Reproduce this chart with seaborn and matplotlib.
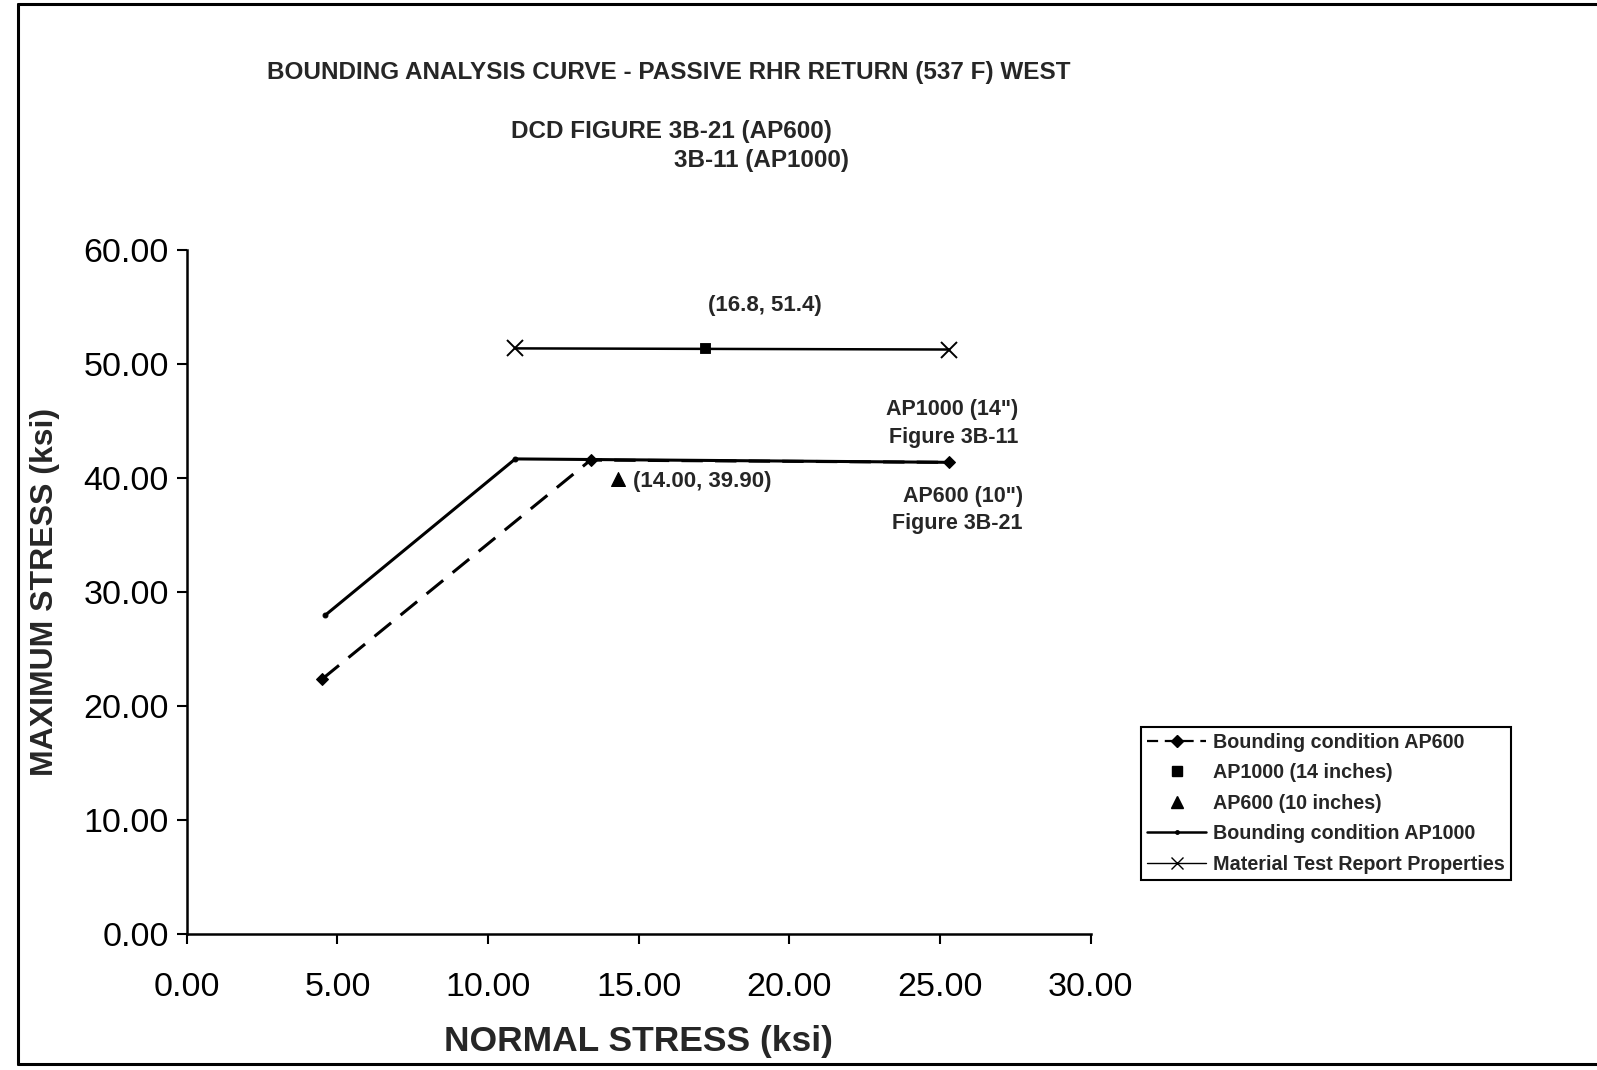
import matplotlib
matplotlib.use("Agg")
import matplotlib.pyplot as plt
import seaborn as sns
import pandas as pd
from matplotlib.lines import Line2D

# ---- data ----
ap600_bound_x = [4.5, 13.4, 25.3]
ap600_bound_y = [22.4, 41.6, 41.4]
ap1000_bound_x = [4.6, 10.9, 25.3]
ap1000_bound_y = [28.0, 41.7, 41.4]
mtr_x = [10.9, 25.3]
mtr_y = [51.4, 51.3]
ap1000_pt_x = [17.2]
ap1000_pt_y = [51.4]
ap600_pt_x = [14.3]
ap600_pt_y = [39.9]

x_ticks = [0, 5, 10, 15, 20, 25, 30]
y_ticks = [0, 10, 20, 30, 40, 50, 60]

sns.set_theme(style="white")
plt.rcParams['font.family'] = ['Liberation Sans', 'DejaVu Sans']

fig = plt.figure(figsize=(15.97, 10.70), dpi=100)
ax = fig.add_axes([0.117, 0.127, 0.566, 0.639])

df1 = pd.DataFrame({"x": ap600_bound_x, "y": ap600_bound_y})
df2 = pd.DataFrame({"x": ap1000_bound_x, "y": ap1000_bound_y})
df3 = pd.DataFrame({"x": mtr_x, "y": mtr_y})

sns.lineplot(data=df2, x="x", y="y", ax=ax, sort=False, color="black",
             linewidth=2.2, marker="o", markersize=3.5, markeredgecolor="black",
             estimator=None)
sns.lineplot(data=df1, x="x", y="y", ax=ax, sort=False, color="black",
             linewidth=2.2, marker="D", markersize=6.5, markeredgecolor="black",
             estimator=None)
ax.lines[-1].set_dashes([7, 4])
sns.lineplot(data=df3, x="x", y="y", ax=ax, sort=False, color="black",
             linewidth=1.8, marker="x", markersize=11, markeredgewidth=1.4,
             markeredgecolor="black", estimator=None)
sns.scatterplot(x=ap1000_pt_x, y=ap1000_pt_y, ax=ax, marker="s", s=60,
                color="black", edgecolor="black", zorder=5)
sns.scatterplot(x=ap600_pt_x, y=ap600_pt_y, ax=ax, marker="^", s=100,
                color="black", edgecolor="black", zorder=5)

ax.set_xlim(0, 30)
ax.set_ylim(0, 60)
ax.set_xticks(x_ticks)
ax.set_yticks(y_ticks)
ax.set_xticklabels([f"{v:.2f}" for v in x_ticks], fontsize=24.5)
ax.set_yticklabels([f"{v:.2f}" for v in y_ticks], fontsize=24.5)
ax.tick_params(axis="both", direction="out", length=7, width=1.5,
               color="black", labelcolor="black", bottom=True, left=True)
ax.tick_params(axis="x", pad=20)
ax.tick_params(axis="y", pad=6)
for s in ["top", "right"]:
    ax.spines[s].set_visible(False)
for s in ["left", "bottom"]:
    ax.spines[s].set_color("black")
    ax.spines[s].set_linewidth(1.8)
ax.set_xlabel("NORMAL STRESS (ksi)", fontsize=25.5, fontweight="bold", labelpad=16)
ax.set_ylabel("MAXIMUM STRESS (ksi)", fontsize=23, fontweight="bold", labelpad=17)
ax.grid(False)

# annotations
ax.text(19.2, 55.2, "(16.8, 51.4)", fontsize=16, fontweight="bold",
        ha="center", va="center")
ax.text(27.6, 44.8, 'AP1000 (14")\nFigure 3B-11', fontsize=15.5,
        fontweight="bold", ha="right", va="center", linespacing=1.4)
ax.text(14.82, 39.7, "(14.00, 39.90)", fontsize=16, fontweight="bold",
        ha="left", va="center")
ax.text(27.75, 37.2, 'AP600 (10")\nFigure 3B-21', fontsize=15.5,
        fontweight="bold", ha="right", va="center", linespacing=1.4)

# titles
fig.text(0.419, 0.932, "BOUNDING ANALYSIS CURVE - PASSIVE RHR RETURN (537 F) WEST",
         fontsize=17.5, fontweight="bold", ha="center", va="center")
fig.text(0.320, 0.877, "DCD FIGURE 3B-21 (AP600)", fontsize=17.5,
         fontweight="bold", ha="left", va="center")
fig.text(0.422, 0.850, "3B-11 (AP1000)", fontsize=17.5,
         fontweight="bold", ha="left", va="center")

# legend
handles = [
    Line2D([], [], color="black", linewidth=1.6, dashes=[5, 3], marker="D", markersize=6),
    Line2D([], [], color="black", linestyle="none", marker="s", markersize=7),
    Line2D([], [], color="black", linestyle="none", marker="^", markersize=8),
    Line2D([], [], color="black", linewidth=1.8, marker="o", markersize=2.5),
    Line2D([], [], color="black", linewidth=1.0, marker="x", markersize=9, markeredgewidth=1.0),
]
labels = ["Bounding condition AP600", "AP1000 (14 inches)", "AP600 (10 inches)",
          "Bounding condition AP1000", "Material Test Report Properties"]
leg = fig.legend(handles, labels, loc="upper left",
                 bbox_to_anchor=(1141 / 1597, 1 - 727 / 1070),
                 fontsize=14.2, frameon=True, fancybox=False, framealpha=1,
                 edgecolor="black", borderpad=0.3, labelspacing=0.58,
                 handlelength=3.0, handletextpad=0.35, borderaxespad=0)
leg.get_frame().set_linewidth(1.5)
for t in leg.get_texts():
    t.set_fontweight("bold")

# figure border (top, left, bottom)
fig.add_artist(Line2D([18 / 1597, 1.0], [1 - 4 / 1070, 1 - 4 / 1070],
                      color="black", linewidth=2.2, transform=fig.transFigure))
fig.add_artist(Line2D([18 / 1597, 18 / 1597], [1 - 4 / 1070, 1 - 1064 / 1070],
                      color="black", linewidth=2.2, transform=fig.transFigure))
fig.add_artist(Line2D([18 / 1597, 1.0], [1 - 1064 / 1070, 1 - 1064 / 1070],
                      color="black", linewidth=2.2, transform=fig.transFigure))

fig.savefig("out.png", dpi=100, facecolor="white")
